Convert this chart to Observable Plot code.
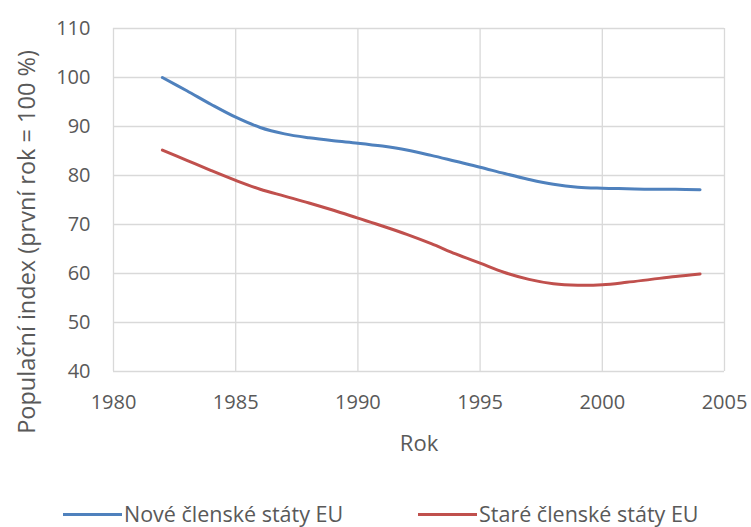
<!DOCTYPE html>
<html>
<head>
<meta charset="utf-8">
<script src="https://cdn.jsdelivr.net/npm/d3@7"></script>
<script src="https://cdn.jsdelivr.net/npm/@observablehq/plot@0.6"></script>
<style>
  html, body { margin: 0; padding: 0; background: #fff; }
  body { width: 751px; height: 527px; overflow: hidden; font-family: "Open Sans", sans-serif; }
  #legend { position: relative; height: 57px; }
  .item { position: absolute; top: 31px; height: 26px; line-height: 26px; display: flex; align-items: center; font-size: 21.5px; color: #595959; white-space: nowrap; }
  .swatch { width: 59px; height: 3px; margin-right: 2px; }
</style>
</head>
<body>
<div id="chart"></div>
<div id="legend"></div>
<script>
const years = [1982,1983,1984,1985,1986,1987,1988,1989,1990,1991,1992,1993,1994,1995,1996,1997,1998,1999,2000,2001,2002,2003,2004];
const noveValues = [100,97.3,94.5,91.9,89.8,88.5,87.7,87.1,86.6,86.0,85.2,84.1,82.9,81.7,80.4,79.2,78.2,77.6,77.4,77.3,77.2,77.2,77.1];
const stareValues = [85.2,83.1,81.0,79.0,77.2,75.8,74.4,72.9,71.3,69.7,68.0,66.1,64.0,62.1,60.2,58.8,57.9,57.6,57.7,58.2,58.8,59.4,59.9];
const seriesNames = ["Nové členské státy EU", "Staré členské státy EU"];
const seriesColors = ["#4F81BD", "#C0504D"];
const xTicks = [1980,1985,1990,1995,2000,2005];
const yTicks = [40,50,60,70,80,90,100,110];
const xTitle = "Rok";
const yTitle = "Populační index (první rok = 100 %)";

const data = [];
years.forEach((y, i) => {
  data.push({year: y, value: noveValues[i], series: seriesNames[0]});
  data.push({year: y, value: stareValues[i], series: seriesNames[1]});
});

const gray = "#595959";
const chart = Plot.plot({
  width: 751,
  height: 470,
  marginTop: 28,
  marginBottom: 99,
  marginLeft: 113,
  marginRight: 27,
  style: {fontFamily: "Open Sans, sans-serif", fontSize: "20px", color: gray, background: "#fff"},
  x: {domain: [1980, 2005]},
  y: {domain: [40, 110]},
  color: {domain: seriesNames, range: seriesColors},
  marks: [
    Plot.gridX(xTicks, {stroke: "#d9d9d9", strokeOpacity: 1, strokeWidth: 1.3}),
    Plot.gridY(yTicks, {stroke: "#d9d9d9", strokeOpacity: 1, strokeWidth: 1.3}),
    Plot.axisX(xTicks, {tickSize: 0, tickPadding: 23, tickFormat: d => String(d), fill: gray, fontSize: 20, label: null}),
    Plot.axisY(yTicks, {tickSize: 0, tickPadding: 23, tickFormat: d => String(d), fill: gray, fontSize: 20, label: null}),
    Plot.line(data, {x: "year", y: "value", z: "series", stroke: "series", strokeWidth: 3, curve: "catmull-rom"}),
    Plot.text([xTitle], {frameAnchor: "bottom", text: d => d, dy: 79, fill: gray, fontSize: 22}),
    Plot.text([yTitle], {frameAnchor: "left", textAnchor: "middle", text: d => d, rotate: -90, dx: -86, dy: 42, fill: gray, fontSize: 23.5})
  ]
});
document.getElementById("chart").appendChild(chart);

const legend = document.getElementById("legend");
const positions = [63, 418];
seriesNames.forEach((name, i) => {
  const item = document.createElement("div");
  item.className = "item";
  item.style.left = positions[i] + "px";
  const sw = document.createElement("span");
  sw.className = "swatch";
  sw.style.background = seriesColors[i];
  const label = document.createElement("span");
  label.textContent = name;
  item.appendChild(sw);
  item.appendChild(label);
  legend.appendChild(item);
});
</script>
</body>
</html>
